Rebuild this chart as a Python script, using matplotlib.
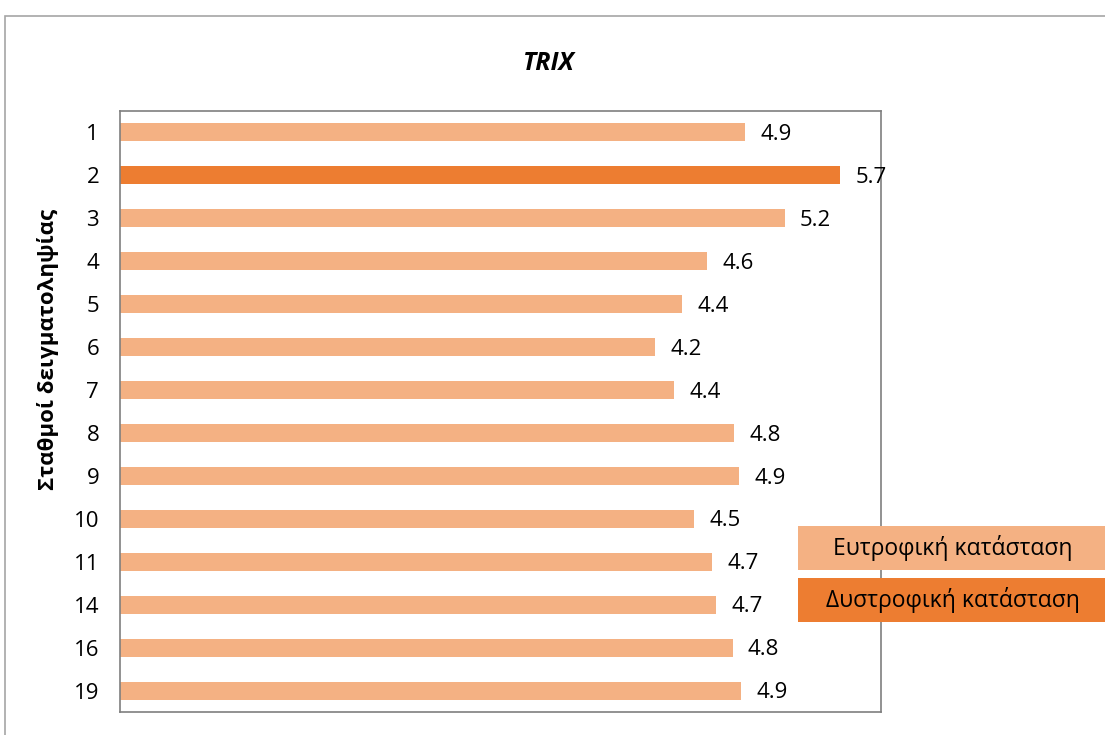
import matplotlib.pyplot as plt
from matplotlib.patches import Rectangle

plt.rcParams['font.family'] = ['Open Sans', 'DejaVu Sans']

stations = ['1', '2', '3', '4', '5', '6', '7', '8', '9', '10', '11', '14', '16', '19']
trix = [4.93, 5.68, 5.24, 4.63, 4.43, 4.22, 4.37, 4.84, 4.88, 4.53, 4.67, 4.70, 4.83, 4.90]
state = ['e', 'd', 'e', 'e', 'e', 'e', 'e', 'e', 'e', 'e', 'e', 'e', 'e', 'e']

light = '#F4B183'
dark = '#ED7D31'
colors = [dark if s == 'd' else light for s in state]

fig = plt.figure(figsize=(11.05, 7.35), dpi=100)
ax = fig.add_axes([0.1086, 0.0313, 0.6886, 0.8177])

y = list(range(len(stations)))
ax.barh(y, trix, height=0.42, color=colors, edgecolor='none')
for yi, v in zip(y, trix):
    ax.text(v + 0.12, yi + 0.05, f'{v:.1f}', va='center', ha='left', fontsize=16, color='black')

ax.set_xlim(0, 6)
ax.set_ylim(len(stations) - 0.5, -0.5)
ax.set_yticks(y)
ax.set_yticklabels(stations, fontsize=16)
ax.set_xticks([])
ax.tick_params(axis='y', length=0, pad=15)
for sp in ax.spines.values():
    sp.set_color('#7f7f7f')
    sp.set_linewidth(1.2)

ax.set_ylabel('Σταθμοί δειγματοληψίας', fontsize=16, fontweight='bold')
ax.yaxis.set_label_coords(-0.08, 0.604)
fig.text(0.497, 0.913, 'TRIX', ha='center', va='center', fontsize=18,
         fontweight='bold', fontstyle='italic')

# outer chart frame (left and top edges visible)
fig.patches.append(Rectangle((5 / 1105, -0.1), 1.2, 1 - 16 / 735 + 0.1, transform=fig.transFigure,
                             fill=False, edgecolor='#a6a6a6', linewidth=1.2))

# legend boxes
for y0, col, lab in [(1 - 570 / 735, light, 'Ευτροφική κατάσταση'),
                     (1 - 622 / 735, dark, 'Δυστροφική κατάσταση')]:
    fig.patches.append(Rectangle((798 / 1105, y0), 0.3, 44 / 735, transform=fig.transFigure,
                                 facecolor=col, edgecolor='none'))
    fig.text(953 / 1105, y0 + 22 / 735, lab, ha='center', va='center', fontsize=16.5)

fig.savefig('out.png', dpi=100)
